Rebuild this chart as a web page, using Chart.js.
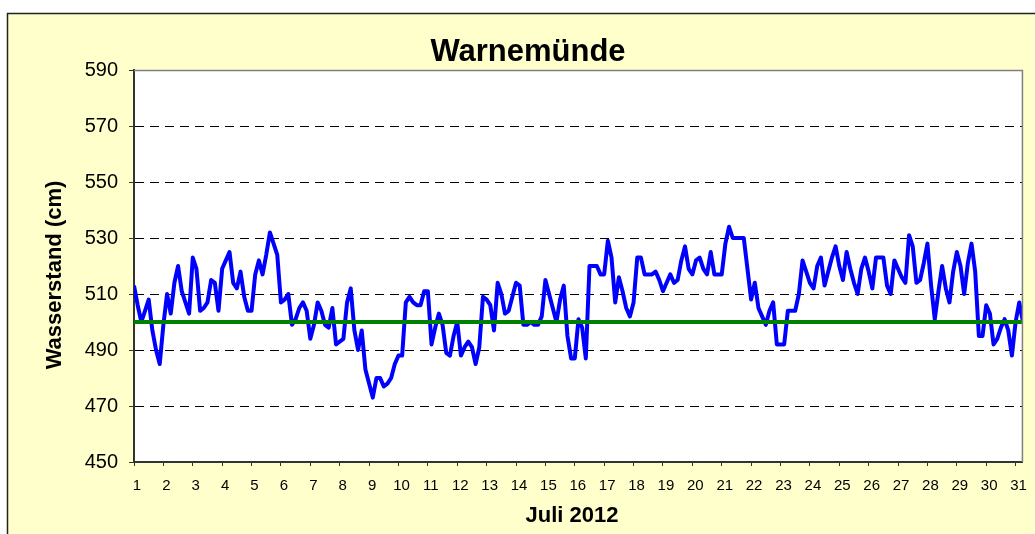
<!DOCTYPE html>
<html>
<head>
<meta charset="utf-8">
<script src="https://cdn.jsdelivr.net/npm/chart.js@4/dist/chart.umd.min.js"></script>
<style>
  html, body { margin: 0; padding: 0; background: #fff; }
  #wrap { width: 1035px; height: 534px; position: relative; }
</style>
</head>
<body>
<div id="wrap"><canvas id="myChart"></canvas></div>
<script>
// Wasserstand Warnemünde, Juli 2012 - one value every 3 hours (cm)
const stepsPerDay = 8;
const firstDay = 1;
const lastDay = 31;
const levels = [
    513, 506, 500, 504, 508, 497, 490, 485, 499, 510,
    503, 514, 520, 511, 507, 503, 523, 519, 504, 505,
    507, 515, 514, 504, 519, 522, 525, 514, 512, 518,
    509, 504, 504, 517, 522, 517, 524, 532, 528, 524,
    507, 508, 510, 499, 501, 505, 507, 504, 494, 499,
    507, 504, 499, 498, 505, 492, 493, 494, 507, 512,
    497, 490, 497, 483, 478, 473, 480, 480, 477, 478,
    480, 485, 488, 488, 507, 509, 507, 506, 506, 511,
    511, 492, 498, 503, 499, 489, 488, 495, 500, 488,
    491, 493, 491, 485, 491, 509, 508, 506, 497, 514,
    510, 503, 504, 509, 514, 513, 499, 499, 500, 499,
    499, 502, 515, 510, 505, 500, 508, 513, 495, 487,
    487, 501, 498, 487, 520, 520, 520, 517, 517, 529,
    523, 507, 516, 511, 505, 502, 507, 523, 523, 517,
    517, 517, 518, 515, 511, 514, 517, 514, 515, 522,
    527, 519, 517, 522, 523, 519, 517, 525, 517, 517,
    517, 528, 534, 530, 530, 530, 530, 519, 508, 514,
    505, 502, 499, 504, 507, 492, 492, 492, 504, 504,
    504, 510, 522, 518, 514, 512, 520, 523, 513, 518,
    523, 527, 520, 515, 525, 519, 514, 510, 519, 523,
    518, 512, 523, 523, 523, 513, 510, 522, 519, 516,
    514, 531, 527, 514, 515, 521, 528, 513, 501, 511,
    520, 512, 507, 518, 525, 520, 510, 521, 528, 518,
    495, 495, 506, 503, 492, 494, 498, 501, 497, 488,
    500, 507, 500
];
const meanLevel = 500;          // Mittelwasser (green line)
const yTicks = [450, 470, 490, 510, 530, 550, 570, 590];

const FONT = '"Liberation Sans", Arial, sans-serif';

// time axis in days: day 1 00:00 is x = 1
const levelPoints = levels.map((v, i) => ({x: firstDay + i / stepsPerDay, y: v}));
const lastX = levelPoints[levelPoints.length - 1].x;
const meanPoints = [{x: firstDay, y: meanLevel}, {x: lastX, y: meanLevel}];

const framePlugin = {
    id: 'frame',
    beforeDraw(chart) {
        const ctx = chart.ctx;
        const a = chart.chartArea;
        ctx.save();
        ctx.fillStyle = '#ffffff';
        ctx.fillRect(0, 0, chart.width, chart.height);
        ctx.fillStyle = '#ffffcc';                    // chart area background
        ctx.fillRect(7, 13, chart.width, chart.height);
        ctx.strokeStyle = '#222222';
        ctx.lineWidth = 1.5;
        ctx.beginPath();
        ctx.moveTo(7.5, chart.height);
        ctx.lineTo(7.5, 13.5);
        ctx.lineTo(chart.width, 13.5);
        ctx.stroke();
        ctx.fillStyle = '#ffffff';                    // plot area
        ctx.fillRect(a.left, a.top, a.right - a.left, a.bottom - a.top);
        ctx.restore();
    },
    afterDraw(chart) {
        const ctx = chart.ctx;
        const a = chart.chartArea;
        ctx.save();
        // grey plot border top + right
        ctx.strokeStyle = '#808080';
        ctx.lineWidth = 1.5;
        ctx.beginPath();
        ctx.moveTo(a.left, a.top + 0.5);
        ctx.lineTo(a.right - 0.5, a.top + 0.5);
        ctx.lineTo(a.right - 0.5, a.bottom);
        ctx.stroke();

        ctx.fillStyle = '#000000';
        ctx.textAlign = 'center';
        ctx.textBaseline = 'middle';
        ctx.font = 'bold 31px ' + FONT;
        ctx.fillText('Warnemünde', 528, 52);
        ctx.font = 'bold 22px ' + FONT;
        ctx.fillText('Juli 2012', 572, 516);
        ctx.translate(55, 275);
        ctx.rotate(-Math.PI / 2);
        ctx.fillText('Wasserstand (cm)', 0, 0);
        ctx.restore();
    }
};

const ctx = document.getElementById('myChart');
const myChart = new Chart(ctx, {
    type: 'line',
    data: {
        datasets: [{
            label: 'Mittelwasser',
            data: meanPoints,
            borderColor: '#008000',
            borderWidth: 4,
            pointRadius: 0,
            order: 0
        },
        {
            label: 'Wasserstand',
            data: levelPoints,
            borderColor: '#0000ff',
            borderWidth: 4,
            borderJoinStyle: 'round',
            pointRadius: 0,
            tension: 0,
            order: 1
        }]
    },
    options: {
        responsive: true,
        maintainAspectRatio: false,
        animation: false,
        layout: {
            padding: {top: 70, right: 8, left: 0, bottom: 0}
        },
        scales: {
            x: {
                type: 'linear',
                min: firstDay,
                max: lastX,
                afterFit: (scale) => { scale.height = 72; },
                ticks: {
                    stepSize: 1,
                    includeBounds: false,
                    autoSkip: false,
                    maxRotation: 0,
                    labelOffset: 3,
                    padding: 11,
                    color: '#000',
                    font: {family: FONT, size: 15},
                    callback: (v) => (Number.isInteger(v) && v <= lastDay) ? String(v) : null
                },
                grid: {
                    drawOnChartArea: false,
                    drawTicks: true,
                    tickLength: 4,
                    tickColor: '#333'
                },
                border: {display: true, color: '#333', width: 2}
            },
            y: {
                min: yTicks[0],
                max: yTicks[yTicks.length - 1],
                afterFit: (scale) => { scale.width = 134; },
                afterBuildTicks: (scale) => { scale.ticks = yTicks.map(v => ({value: v})); },
                ticks: {
                    padding: 11,
                    color: '#000',
                    font: {family: FONT, size: 20}
                },
                grid: {
                    color: (c) => (c.tick && c.tick.value > yTicks[0] && c.tick.value < yTicks[yTicks.length - 1]) ? '#000' : 'rgba(0,0,0,0)',
                    lineWidth: 1,
                    tickLength: 5,
                    tickColor: '#333',
                    tickBorderDash: []
                },
                border: {display: true, color: '#333', width: 2, dash: [9, 6]}
            }
        },
        plugins: {
            legend: {display: false},
            tooltip: {enabled: false},
            title: {display: false}
        }
    },
    plugins: [framePlugin]
});
</script>
</body>
</html>
